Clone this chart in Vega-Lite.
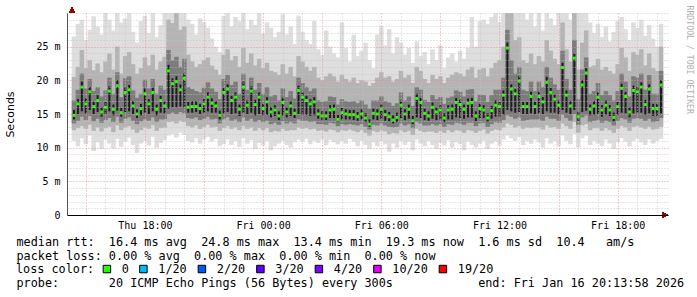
{
"$schema": "https://vega.github.io/schema/vega-lite/v6.json",
"width": 601, "height": 202,
"autosize": {"type": "none"},
"padding": {"left": 67, "top": 13, "right": 29, "bottom": 82},
"background": "white",
"config": {"view": {"stroke": null}, "axis": {"labelFont": "DejaVu Sans Mono", "labelFontSize": 10, "labelColor": "black", "titleFontWeight": "normal", "titleColor": "black"}},
"data": {"values": [
{"t":14.4,"a":11.0,"b":12.6,"c":13.6,"d":14.2,"m":14.8,"e":15.6,"f":17.0,"g":20.5,"h":26.5},
{"t":14.6,"a":10.2,"b":12.9,"c":14.0,"d":15.0,"m":16.5,"e":17.2,"f":18.6,"g":22.0,"h":28.4},
{"t":14.8,"a":11.4,"b":13.2,"c":14.6,"d":15.4,"m":19.0,"e":19.8,"f":21.0,"g":24.5,"h":29.0},
{"t":15.0,"a":10.5,"b":12.8,"c":14.1,"d":15.1,"m":16.5,"e":17.3,"f":18.8,"g":21.8,"h":26.0},
{"t":15.2,"a":11.8,"b":13.4,"c":14.7,"d":15.6,"m":18.3,"e":19.0,"f":20.2,"g":23.0,"h":27.5},
{"t":15.4,"a":9.5,"b":12.5,"c":13.9,"d":15.0,"m":16.1,"e":16.8,"f":18.4,"g":21.5,"h":29.5},
{"t":15.6,"a":10.8,"b":13.0,"c":14.3,"d":15.3,"m":17.0,"e":17.8,"f":19.0,"g":22.5,"h":28.0},
{"t":15.8,"a":9.8,"b":12.4,"c":13.7,"d":14.6,"m":15.3,"e":16.0,"f":17.6,"g":21.2,"h":26.8},
{"t":16.0,"a":11.2,"b":12.9,"c":14.1,"d":15.0,"m":16.0,"e":16.8,"f":18.5,"g":22.8,"h":30.0},
{"t":16.2,"a":10.6,"b":13.1,"c":14.4,"d":15.4,"m":18.4,"e":19.1,"f":20.4,"g":24.0,"h":29.0},
{"t":16.4,"a":9.9,"b":12.3,"c":13.8,"d":14.8,"m":15.7,"e":16.4,"f":18.0,"g":21.6,"h":27.4},
{"t":16.6,"a":11.3,"b":13.3,"c":14.6,"d":15.5,"m":19.2,"e":20.0,"f":21.2,"g":25.0,"h":30.0},
{"t":16.8,"a":10.1,"b":12.6,"c":13.7,"d":14.6,"m":15.2,"e":15.9,"f":17.5,"g":21.0,"h":28.6},
{"t":17.0,"a":10.9,"b":13.0,"c":14.3,"d":15.3,"m":18.2,"e":19.0,"f":20.3,"g":23.6,"h":29.2},
{"t":17.2,"a":11.5,"b":13.2,"c":14.5,"d":15.4,"m":18.6,"e":19.3,"f":20.6,"g":24.2,"h":30.0},
{"t":17.4,"a":10.4,"b":12.7,"c":14.0,"d":15.0,"m":16.2,"e":16.9,"f":18.5,"g":22.4,"h":27.2},
{"t":17.6,"a":9.2,"b":12.2,"c":13.5,"d":14.4,"m":15.0,"e":15.7,"f":17.4,"g":21.0,"h":25.6},
{"t":17.8,"a":10.6,"b":12.6,"c":13.9,"d":14.8,"m":15.8,"e":16.5,"f":18.0,"g":21.8,"h":28.8},
{"t":18.0,"a":11.0,"b":13.0,"c":14.2,"d":15.2,"m":18.0,"e":18.8,"f":20.1,"g":23.4,"h":29.6},
{"t":18.2,"a":10.3,"b":12.8,"c":14.0,"d":15.0,"m":16.5,"e":17.2,"f":18.8,"g":22.2,"h":27.0},
{"t":18.4,"a":11.6,"b":13.3,"c":14.5,"d":15.4,"m":18.2,"e":18.9,"f":20.2,"g":23.8,"h":30.0},
{"t":18.6,"a":10.0,"b":12.5,"c":13.8,"d":14.8,"m":15.7,"e":16.4,"f":18.0,"g":21.6,"h":26.4},
{"t":18.8,"a":10.7,"b":12.9,"c":14.2,"d":15.2,"m":17.0,"e":17.7,"f":19.2,"g":22.8,"h":28.2},
{"t":19.0,"a":11.1,"b":13.0,"c":14.2,"d":15.1,"m":16.2,"e":16.9,"f":18.6,"g":23.5,"h":30.0},
{"t":19.2,"a":11.8,"b":13.8,"c":15.0,"d":15.8,"m":21.4,"e":22.3,"f":24.5,"g":29.0,"h":30.0},
{"t":19.4,"a":12.0,"b":13.9,"c":15.2,"d":16.0,"m":19.5,"e":20.3,"f":23.0,"g":28.5,"h":30.0},
{"t":19.6,"a":11.5,"b":13.6,"c":15.0,"d":16.0,"m":19.8,"e":20.6,"f":23.5,"g":30.0,"h":30.0},
{"t":19.8,"a":12.2,"b":14.0,"c":15.3,"d":16.1,"m":18.6,"e":19.4,"f":22.0,"g":27.5,"h":30.0},
{"t":20.0,"a":11.9,"b":13.8,"c":15.1,"d":16.0,"m":20.3,"e":21.0,"f":23.2,"g":28.0,"h":30.0},
{"t":20.2,"a":11.0,"b":13.2,"c":14.4,"d":15.2,"m":16.0,"e":16.8,"f":19.0,"g":23.8,"h":29.0},
{"t":20.4,"a":10.8,"b":13.0,"c":14.3,"d":15.2,"m":16.1,"e":16.9,"f":18.7,"g":22.8,"h":28.4},
{"t":20.6,"a":11.4,"b":13.3,"c":14.5,"d":15.3,"m":16.1,"e":16.9,"f":18.4,"g":22.0,"h":26.8},
{"t":20.8,"a":10.6,"b":12.8,"c":14.1,"d":15.0,"m":15.8,"e":16.5,"f":18.2,"g":22.4,"h":29.2},
{"t":21.0,"a":11.2,"b":13.1,"c":14.3,"d":15.2,"m":16.5,"e":17.2,"f":18.9,"g":23.0,"h":28.6},
{"t":21.2,"a":11.6,"b":13.4,"c":14.6,"d":15.4,"m":17.5,"e":18.2,"f":19.7,"g":23.4,"h":27.8},
{"t":21.4,"a":10.9,"b":13.0,"c":14.2,"d":15.2,"m":16.6,"e":17.3,"f":18.8,"g":22.2,"h":26.2},
{"t":21.6,"a":11.3,"b":13.1,"c":14.3,"d":15.2,"m":16.2,"e":16.9,"f":18.3,"g":21.6,"h":25.0},
{"t":21.8,"a":10.2,"b":12.5,"c":13.6,"d":14.2,"m":14.8,"e":15.5,"f":17.2,"g":20.8,"h":24.2},
{"t":22.0,"a":10.5,"b":12.9,"c":14.2,"d":15.1,"m":18.2,"e":18.9,"f":20.2,"g":23.8,"h":29.6},
{"t":22.2,"a":11.2,"b":13.2,"c":14.5,"d":15.3,"m":18.7,"e":19.4,"f":20.8,"g":24.6,"h":30.0},
{"t":22.4,"a":10.4,"b":12.8,"c":14.0,"d":15.0,"m":17.0,"e":17.7,"f":19.3,"g":23.0,"h":28.0},
{"t":22.6,"a":11.0,"b":13.0,"c":14.2,"d":15.1,"m":17.5,"e":18.2,"f":19.8,"g":23.6,"h":29.4},
{"t":22.8,"a":10.1,"b":12.6,"c":13.8,"d":14.7,"m":15.7,"e":16.4,"f":18.0,"g":22.0,"h":28.8},
{"t":23.0,"a":11.4,"b":13.2,"c":14.5,"d":15.2,"m":19.0,"e":19.8,"f":21.0,"g":24.8,"h":30.0},
{"t":23.2,"a":10.6,"b":12.8,"c":14.0,"d":15.0,"m":16.3,"e":17.0,"f":18.6,"g":22.6,"h":27.6},
{"t":23.4,"a":11.1,"b":13.0,"c":14.3,"d":15.2,"m":18.4,"e":19.1,"f":20.4,"g":24.0,"h":29.0},
{"t":23.6,"a":9.8,"b":12.5,"c":13.8,"d":14.8,"m":16.4,"e":17.1,"f":18.6,"g":22.2,"h":28.2},
{"t":23.8,"a":10.7,"b":12.9,"c":14.1,"d":15.0,"m":17.5,"e":18.2,"f":19.6,"g":23.2,"h":30.0},
{"t":24.0,"a":10.3,"b":12.6,"c":13.8,"d":14.8,"m":15.8,"e":16.5,"f":18.0,"g":21.8,"h":27.0},
{"t":24.2,"a":11.0,"b":12.9,"c":14.0,"d":14.9,"m":16.8,"e":17.5,"f":19.0,"g":22.6,"h":28.6},
{"t":24.4,"a":9.6,"b":12.3,"c":13.5,"d":14.5,"m":15.3,"e":16.0,"f":17.6,"g":21.4,"h":27.8},
{"t":24.6,"a":10.2,"b":12.5,"c":13.7,"d":14.7,"m":15.6,"e":16.3,"f":17.8,"g":21.2,"h":26.4},
{"t":24.8,"a":10.6,"b":12.4,"c":13.4,"d":14.1,"m":14.7,"e":15.4,"f":17.0,"g":20.8,"h":27.2},
{"t":25.0,"a":11.0,"b":12.8,"c":13.9,"d":14.8,"m":16.7,"e":17.4,"f":18.8,"g":22.4,"h":29.8},
{"t":25.2,"a":10.4,"b":12.5,"c":13.6,"d":14.5,"m":15.3,"e":16.0,"f":17.5,"g":21.0,"h":26.8},
{"t":25.4,"a":10.0,"b":12.6,"c":13.8,"d":14.7,"m":16.2,"e":16.9,"f":18.4,"g":22.0,"h":28.0},
{"t":25.6,"a":10.8,"b":12.6,"c":13.6,"d":14.4,"m":15.1,"e":15.8,"f":17.3,"g":20.6,"h":25.4},
{"t":25.8,"a":11.2,"b":13.0,"c":14.2,"d":15.0,"m":18.5,"e":19.2,"f":20.4,"g":23.6,"h":29.6},
{"t":26.0,"a":10.9,"b":12.8,"c":14.0,"d":14.9,"m":17.5,"e":18.2,"f":19.6,"g":22.8,"h":27.2},
{"t":26.2,"a":11.3,"b":12.9,"c":14.0,"d":14.9,"m":17.0,"e":17.7,"f":19.0,"g":22.0,"h":26.0},
{"t":26.4,"a":10.5,"b":12.7,"c":13.8,"d":14.7,"m":16.5,"e":17.2,"f":18.4,"g":21.4,"h":25.4},
{"t":26.6,"a":11.0,"b":12.8,"c":13.9,"d":14.8,"m":16.8,"e":17.5,"f":18.8,"g":22.0,"h":28.8},
{"t":26.8,"a":10.7,"b":12.5,"c":13.5,"d":14.3,"m":15.0,"e":15.7,"f":17.0,"g":20.4,"h":24.6},
{"t":27.0,"a":11.2,"b":12.6,"c":13.5,"d":14.1,"m":14.7,"e":15.4,"f":16.8,"g":20.0,"h":23.8},
{"t":27.2,"a":10.4,"b":12.4,"c":13.4,"d":14.1,"m":14.7,"e":15.4,"f":16.9,"g":20.6,"h":27.4},
{"t":27.4,"a":11.1,"b":12.7,"c":13.7,"d":14.4,"m":15.6,"e":16.3,"f":17.6,"g":21.0,"h":25.0},
{"t":27.6,"a":10.8,"b":12.6,"c":13.6,"d":14.4,"m":15.7,"e":16.4,"f":17.5,"g":20.6,"h":24.0},
{"t":27.8,"a":10.5,"b":12.3,"c":13.2,"d":13.8,"m":14.2,"e":14.9,"f":16.4,"g":19.8,"h":23.4},
{"t":28.0,"a":11.0,"b":12.6,"c":13.5,"d":14.2,"m":15.2,"e":15.9,"f":17.2,"g":20.8,"h":28.6},
{"t":28.2,"a":10.6,"b":12.5,"c":13.4,"d":14.2,"m":15.0,"e":15.7,"f":16.9,"g":20.2,"h":24.8},
{"t":28.4,"a":11.3,"b":12.7,"c":13.5,"d":14.2,"m":14.9,"e":15.6,"f":16.8,"g":19.8,"h":22.8},
{"t":28.6,"a":10.9,"b":12.5,"c":13.4,"d":14.1,"m":14.9,"e":15.6,"f":16.9,"g":20.4,"h":26.8},
{"t":28.8,"a":10.2,"b":12.3,"c":13.3,"d":14.0,"m":14.6,"e":15.3,"f":16.6,"g":19.6,"h":23.6},
{"t":29.0,"a":11.0,"b":12.6,"c":13.5,"d":14.2,"m":15.0,"e":15.7,"f":17.0,"g":20.0,"h":24.4},
{"t":29.2,"a":10.4,"b":12.2,"c":13.1,"d":13.8,"m":14.4,"e":15.1,"f":16.4,"g":19.8,"h":25.6},
{"t":29.4,"a":9.8,"b":11.8,"c":12.7,"d":13.1,"m":13.5,"e":14.2,"f":15.8,"g":19.2,"h":23.0},
{"t":29.6,"a":10.8,"b":12.5,"c":13.4,"d":14.2,"m":15.1,"e":15.8,"f":17.0,"g":19.6,"h":21.8},
{"t":29.8,"a":10.2,"b":12.3,"c":13.3,"d":14.1,"m":15.0,"e":15.7,"f":17.0,"g":20.4,"h":26.8},
{"t":30.0,"a":11.0,"b":12.6,"c":13.6,"d":14.3,"m":15.7,"e":16.4,"f":17.6,"g":21.2,"h":28.0},
{"t":30.2,"a":10.5,"b":12.4,"c":13.3,"d":14.0,"m":14.9,"e":15.6,"f":16.9,"g":20.4,"h":25.2},
{"t":30.4,"a":9.4,"b":12.0,"c":13.1,"d":13.9,"m":14.6,"e":15.3,"f":16.7,"g":20.6,"h":27.6},
{"t":30.6,"a":10.6,"b":12.2,"c":13.0,"d":13.6,"m":14.1,"e":14.8,"f":16.2,"g":19.8,"h":24.0},
{"t":30.8,"a":10.0,"b":12.1,"c":13.1,"d":13.8,"m":14.5,"e":15.2,"f":16.6,"g":20.2,"h":26.4},
{"t":31.0,"a":11.0,"b":12.6,"c":13.6,"d":14.4,"m":16.3,"e":17.0,"f":18.2,"g":21.4,"h":25.6},
{"t":31.2,"a":10.4,"b":12.3,"c":13.3,"d":14.1,"m":15.0,"e":15.7,"f":17.0,"g":20.4,"h":23.8},
{"t":31.4,"a":10.9,"b":12.5,"c":13.5,"d":14.3,"m":15.7,"e":16.4,"f":17.6,"g":20.8,"h":24.8},
{"t":31.6,"a":9.6,"b":11.9,"c":12.9,"d":13.5,"m":14.0,"e":14.7,"f":16.2,"g":19.6,"h":22.6},
{"t":31.8,"a":11.2,"b":12.8,"c":13.8,"d":14.5,"m":17.3,"e":18.0,"f":19.0,"g":22.0,"h":25.8},
{"t":32.0,"a":10.6,"b":12.5,"c":13.6,"d":14.4,"m":16.7,"e":17.4,"f":18.6,"g":21.4,"h":23.6},
{"t":32.2,"a":10.2,"b":12.3,"c":13.3,"d":14.1,"m":15.1,"e":15.8,"f":17.1,"g":20.2,"h":24.2},
{"t":32.4,"a":11.0,"b":12.4,"c":13.3,"d":14.0,"m":14.7,"e":15.4,"f":16.8,"g":19.6,"h":22.4},
{"t":32.6,"a":10.4,"b":12.4,"c":13.5,"d":14.3,"m":16.0,"e":16.7,"f":17.8,"g":20.8,"h":24.6},
{"t":32.8,"a":9.8,"b":12.2,"c":13.3,"d":14.1,"m":15.3,"e":16.0,"f":17.2,"g":20.2,"h":23.0},
{"t":33.0,"a":10.7,"b":12.5,"c":13.5,"d":14.2,"m":15.6,"e":16.3,"f":17.5,"g":20.6,"h":25.2},
{"t":33.2,"a":10.3,"b":12.2,"c":13.1,"d":13.8,"m":14.4,"e":15.1,"f":16.5,"g":19.6,"h":21.8},
{"t":33.4,"a":11.1,"b":12.6,"c":13.5,"d":14.2,"m":15.6,"e":16.3,"f":17.4,"g":20.4,"h":23.4},
{"t":33.6,"a":10.0,"b":12.3,"c":13.4,"d":14.2,"m":15.7,"e":16.4,"f":17.6,"g":20.8,"h":24.0},
{"t":33.8,"a":10.8,"b":12.6,"c":13.7,"d":14.5,"m":16.7,"e":17.4,"f":18.5,"g":21.2,"h":22.8},
{"t":34.0,"a":10.5,"b":12.5,"c":13.6,"d":14.4,"m":16.4,"e":17.1,"f":18.3,"g":21.0,"h":24.4},
{"t":34.2,"a":9.6,"b":12.2,"c":13.4,"d":14.3,"m":15.7,"e":16.4,"f":17.6,"g":20.6,"h":23.2},
{"t":34.4,"a":10.9,"b":12.6,"c":13.7,"d":14.5,"m":16.6,"e":17.3,"f":18.6,"g":21.6,"h":24.8},
{"t":34.6,"a":10.4,"b":12.5,"c":13.7,"d":14.5,"m":16.7,"e":17.4,"f":18.7,"g":22.0,"h":29.4},
{"t":34.8,"a":10.0,"b":12.2,"c":13.2,"d":13.9,"m":14.7,"e":15.4,"f":16.9,"g":20.4,"h":25.0},
{"t":35.0,"a":10.6,"b":12.5,"c":13.6,"d":14.4,"m":15.8,"e":16.5,"f":17.9,"g":21.6,"h":28.8},
{"t":35.2,"a":11.0,"b":12.7,"c":13.7,"d":14.4,"m":15.6,"e":16.3,"f":17.8,"g":21.8,"h":29.0},
{"t":35.4,"a":9.8,"b":12.1,"c":13.1,"d":13.8,"m":14.4,"e":15.1,"f":16.8,"g":20.6,"h":28.4},
{"t":35.6,"a":10.6,"b":12.5,"c":13.5,"d":14.3,"m":15.5,"e":16.2,"f":17.8,"g":21.8,"h":29.4},
{"t":35.8,"a":10.9,"b":12.7,"c":13.8,"d":14.6,"m":16.3,"e":17.0,"f":18.6,"g":22.6,"h":30.0},
{"t":36.0,"a":10.3,"b":12.6,"c":13.7,"d":14.6,"m":16.1,"e":16.8,"f":18.6,"g":23.0,"h":28.6},
{"t":36.2,"a":11.2,"b":13.0,"c":14.1,"d":14.9,"m":17.8,"e":18.5,"f":20.4,"g":25.0,"h":30.0},
{"t":36.4,"a":11.8,"b":13.6,"c":14.8,"d":15.6,"m":24.8,"e":25.6,"f":27.5,"g":30.0,"h":30.0},
{"t":36.6,"a":11.4,"b":13.4,"c":14.6,"d":15.4,"m":18.7,"e":19.4,"f":23.0,"g":30.0,"h":30.0},
{"t":36.8,"a":11.0,"b":13.0,"c":14.3,"d":15.2,"m":18.0,"e":18.7,"f":21.0,"g":26.0,"h":30.0},
{"t":37.0,"a":11.6,"b":13.2,"c":14.5,"d":15.3,"m":19.9,"e":20.6,"f":22.0,"g":26.4,"h":30.0},
{"t":37.2,"a":10.4,"b":12.8,"c":14.0,"d":15.0,"m":16.1,"e":16.8,"f":18.6,"g":23.0,"h":30.0},
{"t":37.4,"a":11.0,"b":13.0,"c":14.1,"d":15.0,"m":16.1,"e":16.8,"f":18.4,"g":22.6,"h":29.0},
{"t":37.6,"a":10.6,"b":12.9,"c":14.2,"d":15.1,"m":17.6,"e":18.3,"f":19.8,"g":24.0,"h":30.0},
{"t":37.8,"a":11.2,"b":13.0,"c":14.2,"d":15.0,"m":16.1,"e":16.8,"f":18.4,"g":22.4,"h":28.0},
{"t":38.0,"a":10.8,"b":13.0,"c":14.2,"d":15.1,"m":17.6,"e":18.3,"f":19.8,"g":23.6,"h":30.0},
{"t":38.2,"a":10.0,"b":12.7,"c":14.0,"d":15.0,"m":16.8,"e":17.5,"f":19.0,"g":22.8,"h":27.4},
{"t":38.4,"a":11.4,"b":13.3,"c":14.6,"d":15.4,"m":19.7,"e":20.5,"f":22.0,"g":26.0,"h":30.0},
{"t":38.6,"a":10.6,"b":13.0,"c":14.3,"d":15.2,"m":18.2,"e":18.9,"f":20.4,"g":24.4,"h":29.2},
{"t":38.8,"a":11.0,"b":13.1,"c":14.3,"d":15.2,"m":17.2,"e":17.9,"f":19.4,"g":23.2,"h":28.2},
{"t":39.0,"a":10.2,"b":12.8,"c":14.0,"d":15.0,"m":16.3,"e":17.0,"f":18.6,"g":22.4,"h":30.0},
{"t":39.2,"a":11.8,"b":13.6,"c":14.9,"d":15.6,"m":21.9,"e":22.6,"f":24.4,"g":28.6,"h":30.0},
{"t":39.4,"a":11.0,"b":13.2,"c":14.4,"d":15.2,"m":17.8,"e":18.5,"f":20.2,"g":24.6,"h":30.0},
{"t":39.6,"a":10.5,"b":12.8,"c":14.0,"d":15.0,"m":16.2,"e":16.9,"f":18.6,"g":22.8,"h":29.0},
{"t":39.8,"a":12.0,"b":13.8,"c":15.0,"d":15.6,"m":23.3,"e":24.0,"f":26.0,"g":30.0,"h":30.0},
{"t":40.0,"a":10.0,"b":12.2,"c":13.4,"d":14.0,"m":14.6,"e":15.3,"f":17.2,"g":21.6,"h":30.0},
{"t":40.2,"a":11.4,"b":13.3,"c":14.5,"d":15.3,"m":19.3,"e":20.0,"f":21.6,"g":25.6,"h":30.0},
{"t":40.4,"a":11.8,"b":13.5,"c":14.8,"d":15.5,"m":21.1,"e":21.8,"f":23.4,"g":27.4,"h":30.0},
{"t":40.6,"a":10.4,"b":12.6,"c":13.8,"d":14.8,"m":15.7,"e":16.4,"f":18.0,"g":22.0,"h":28.6},
{"t":40.8,"a":11.0,"b":12.9,"c":14.0,"d":14.9,"m":16.2,"e":16.9,"f":18.4,"g":22.2,"h":27.0},
{"t":41.0,"a":10.6,"b":12.9,"c":14.1,"d":15.0,"m":17.5,"e":18.2,"f":19.6,"g":23.2,"h":28.4},
{"t":41.2,"a":10.2,"b":12.5,"c":13.7,"d":14.6,"m":15.6,"e":16.3,"f":17.8,"g":21.6,"h":26.4},
{"t":41.4,"a":11.2,"b":12.9,"c":14.0,"d":14.9,"m":16.3,"e":17.0,"f":18.4,"g":22.0,"h":28.0},
{"t":41.6,"a":10.6,"b":12.6,"c":13.8,"d":14.7,"m":15.6,"e":16.3,"f":17.8,"g":21.4,"h":25.8},
{"t":41.8,"a":9.8,"b":12.2,"c":13.3,"d":13.9,"m":14.5,"e":15.2,"f":17.0,"g":21.0,"h":27.2},
{"t":42.0,"a":10.8,"b":12.8,"c":14.0,"d":14.9,"m":16.1,"e":16.8,"f":18.4,"g":22.4,"h":28.8},
{"t":42.2,"a":11.4,"b":13.2,"c":14.4,"d":15.2,"m":18.8,"e":19.5,"f":21.0,"g":24.8,"h":29.4},
{"t":42.4,"a":10.9,"b":13.0,"c":14.2,"d":15.1,"m":17.6,"e":18.3,"f":19.8,"g":23.4,"h":27.6},
{"t":42.6,"a":10.2,"b":12.5,"c":13.7,"d":14.5,"m":15.3,"e":16.0,"f":17.6,"g":21.4,"h":26.0},
{"t":42.8,"a":11.0,"b":13.1,"c":14.3,"d":15.1,"m":18.5,"e":19.2,"f":20.6,"g":24.2,"h":28.6},
{"t":43.0,"a":11.3,"b":13.2,"c":14.4,"d":15.2,"m":18.3,"e":19.0,"f":20.4,"g":23.8,"h":27.8},
{"t":43.2,"a":10.8,"b":13.0,"c":14.3,"d":15.2,"m":19.0,"e":19.7,"f":21.0,"g":24.6,"h":29.0},
{"t":43.4,"a":10.4,"b":12.8,"c":14.0,"d":14.9,"m":16.4,"e":17.1,"f":18.6,"g":22.2,"h":26.6},
{"t":43.6,"a":11.2,"b":13.1,"c":14.3,"d":15.1,"m":18.7,"e":19.4,"f":20.8,"g":24.0,"h":28.2},
{"t":43.8,"a":10.6,"b":12.7,"c":13.8,"d":14.7,"m":15.8,"e":16.5,"f":18.0,"g":21.8,"h":26.2},
{"t":44.0,"a":11.0,"b":12.8,"c":13.9,"d":14.7,"m":15.8,"e":16.5,"f":18.0,"g":21.4,"h":25.0},
{"t":44.2,"a":11.3,"b":13.1,"c":14.4,"d":15.1,"m":19.3,"e":20.0,"f":21.4,"g":25.0,"h":28.4}
]},
"layer": [
{
 "mark": {"type": "bar", "orient": "vertical", "width": 4.5, "color": "#dedede"},
 "encoding": {
  "x": {"field": "t", "type": "quantitative", "scale": {"domain": [14.3, 44.3], "nice": false, "zero": false},
        "axis": {"orient": "bottom", "values": [16,17,19,20,22,23,25,26,28,29,31,32,34,35,37,38,40,41,43,44], "grid": true, "gridColor": "#c4c4c4", "gridOpacity": 0.8, "gridDash": [1,2], "labels": false, "ticks": false, "domain": false, "zindex": 1,
                 "title": "probe:\u00a0\u00a0\u00a0\u00a0\u00a0\u00a0\u00a020\u00a0ICMP\u00a0Echo\u00a0Pings\u00a0(56\u00a0Bytes)\u00a0every\u00a0300s\u00a0\u00a0\u00a0\u00a0\u00a0\u00a0\u00a0\u00a0\u00a0\u00a0\u00a0\u00a0end:\u00a0Fri\u00a0Jan\u00a016\u00a020:13:58\u00a02026",
                 "titleFont": "DejaVu Sans Mono", "titleFontSize": 11.8, "titleAlign": "left", "titleAnchor": "start", "titleX": -51, "titleY": 62.6, "titleBaseline": "top"}},
  "y": {"field": "a", "type": "quantitative", "scale": {"domain": [0, 30], "nice": false, "zero": true},
        "axis": {"orient": "left", "values": [1,2,3,4,6,7,8,9,11,12,13,14,16,17,18,19,21,22,23,24,26,27,28,29,30], "grid": true, "gridColor": "#c4c4c4", "gridOpacity": 0.8, "gridDash": [1,2], "labels": false, "ticks": false, "domain": false, "title": null, "zindex": 1}},
  "y2": {"field": "h"}
 }
},
{
 "mark": {"type": "bar", "orient": "vertical", "width": 4.5, "color": "#b4b4b4"},
 "encoding": {
  "x": {"field": "t", "type": "quantitative", "scale": {"domain": [14.3, 44.3], "nice": false, "zero": false},
        "axis": {"orient": "bottom", "values": [15,18,21,24,27,30,33,36,39,42], "grid": true, "gridColor": "#ec9090", "gridOpacity": 0.9, "gridDash": [1,2], "labels": false, "ticks": false, "domain": false, "title": null, "zindex": 1}},
  "y": {"field": "b", "type": "quantitative", "scale": {"domain": [0, 30], "nice": false, "zero": true},
        "axis": {"orient": "left", "values": [0,5,10,15,20,25], "grid": true, "gridColor": "#ec9090", "gridOpacity": 0.9, "gridDash": [1,2], "ticks": false, "labelPadding": 7,
                 "labelExpr": "datum.value == 0 ? '0' : datum.value + ' m'",
                 "domain": true, "domainColor": "#555555", "domainWidth": 1,
                 "title": "Seconds", "titleFont": "DejaVu Sans", "titleFontSize": 11, "titleAngle": -90, "titleX": -57, "titleY": 101, "titleAlign": "center", "titleBaseline": "middle", "zindex": 1}},
  "y2": {"field": "g"}
 }
},
{
 "mark": {"type": "bar", "orient": "vertical", "width": 4.5, "color": "#7c7c7c"},
 "encoding": {
  "x": {"field": "t", "type": "quantitative", "scale": {"domain": [14.3, 44.3], "nice": false, "zero": false},
        "axis": {"orient": "bottom", "values": [18,24,30,36,42], "grid": false, "ticks": false, "tickSize": 0, "labelPadding": 5,
                 "labelExpr": "datum.value < 24 ? 'Thu ' + datum.value + ':00' : 'Fri ' + (datum.value % 24 < 10 ? '0' : '') + (datum.value % 24) + ':00'",
                 "domain": true, "domainColor": "black", "domainWidth": 1, "zindex": 1,
                 "title": ["median rtt:\u00a0\u00a016.4\u00a0ms\u00a0avg\u00a0\u00a024.8\u00a0ms\u00a0max\u00a0\u00a013.4\u00a0ms\u00a0min\u00a0\u00a019.3\u00a0ms\u00a0now\u00a0\u00a01.6\u00a0ms\u00a0sd\u00a0\u00a010.4\u00a0\u00a0\u00a0am/s",
                           "packet\u00a0loss:\u00a00.00\u00a0%\u00a0avg\u00a0\u00a00.00\u00a0%\u00a0max\u00a0\u00a00.00\u00a0%\u00a0min\u00a0\u00a00.00\u00a0%\u00a0now"],
                 "titleFont": "DejaVu Sans Mono", "titleFontSize": 11.8, "titleLineHeight": 13.7, "titleAlign": "left", "titleAnchor": "start", "titleX": -51, "titleY": 21.5, "titleBaseline": "top"}},
  "y": {"field": "c", "type": "quantitative", "scale": {"domain": [0, 30], "nice": false, "zero": true},
        "axis": {"orient": "right", "labels": false, "ticks": false, "domain": false, "grid": false,
                 "title": "RRDTOOL / TOBI OETIKER", "titleAngle": 90, "titleX": 20, "titleY": -8, "titleAlign": "left", "titleBaseline": "middle",
                 "titleFont": "DejaVu Sans Mono", "titleFontSize": 8.2, "titleColor": "#b0b0b0"}},
  "y2": {"field": "f"}
 }
},
{
 "mark": {"type": "bar", "orient": "vertical", "width": 2, "color": "#1c1c1c"},
 "encoding": {
  "x": {"field": "t", "type": "quantitative", "axis": null},
  "y": {"field": "d", "type": "quantitative", "axis": null},
  "y2": {"field": "e"}
 }
},
{
 "mark": {"type": "point", "shape": "square", "filled": true, "size": 9, "opacity": 1, "strokeWidth": 0},
 "encoding": {
  "x": {"field": "t", "type": "quantitative", "axis": null},
  "y": {"field": "m", "type": "quantitative", "axis": null},
  "color": {"datum": "0", "type": "nominal",
   "scale": {"domain": ["0","1/20","2/20","3/20","4/20","10/20","19/20"], "range": ["#26ff00","#00b8ff","#0059ff","#5e00ff","#7e00ff","#dd00ff","#ff0000"]},
   "legend": {"orient": "none", "legendX": -51, "legendY": 250, "direction": "horizontal", "columns": 7,
     "title": "loss color:", "titleOrient": "left", "titleFont": "DejaVu Sans Mono", "titleFontSize": 11.8, "titleFontWeight": "normal", "titleColor": "black", "titlePadding": 6,
     "labelFont": "DejaVu Sans Mono", "labelFontSize": 11.8, "labelColor": "black", "labelOffset": 9, "columnPadding": 8.5,
     "symbolType": "square", "symbolSize": 56, "symbolStrokeColor": "black", "symbolStrokeWidth": 1, "symbolOpacity": 1, "padding": 0}}
 }
},
{
 "mark": {"type": "point", "shape": "triangle-right", "filled": true, "color": "#990000", "size": 30, "opacity": 1, "xOffset": 2},
 "encoding": {
  "x": {"datum": 44.3, "type": "quantitative", "axis": null},
  "y": {"datum": 0, "type": "quantitative", "axis": null}
 }
},
{
 "mark": {"type": "point", "shape": "triangle-up", "filled": true, "color": "#990000", "size": 30, "opacity": 1, "yOffset": -3},
 "encoding": {
  "x": {"datum": 14.3, "type": "quantitative", "axis": null},
  "y": {"datum": 30, "type": "quantitative", "axis": null}
 }
}
],
"resolve": {"axis": {"x": "independent", "y": "independent"}}
}
